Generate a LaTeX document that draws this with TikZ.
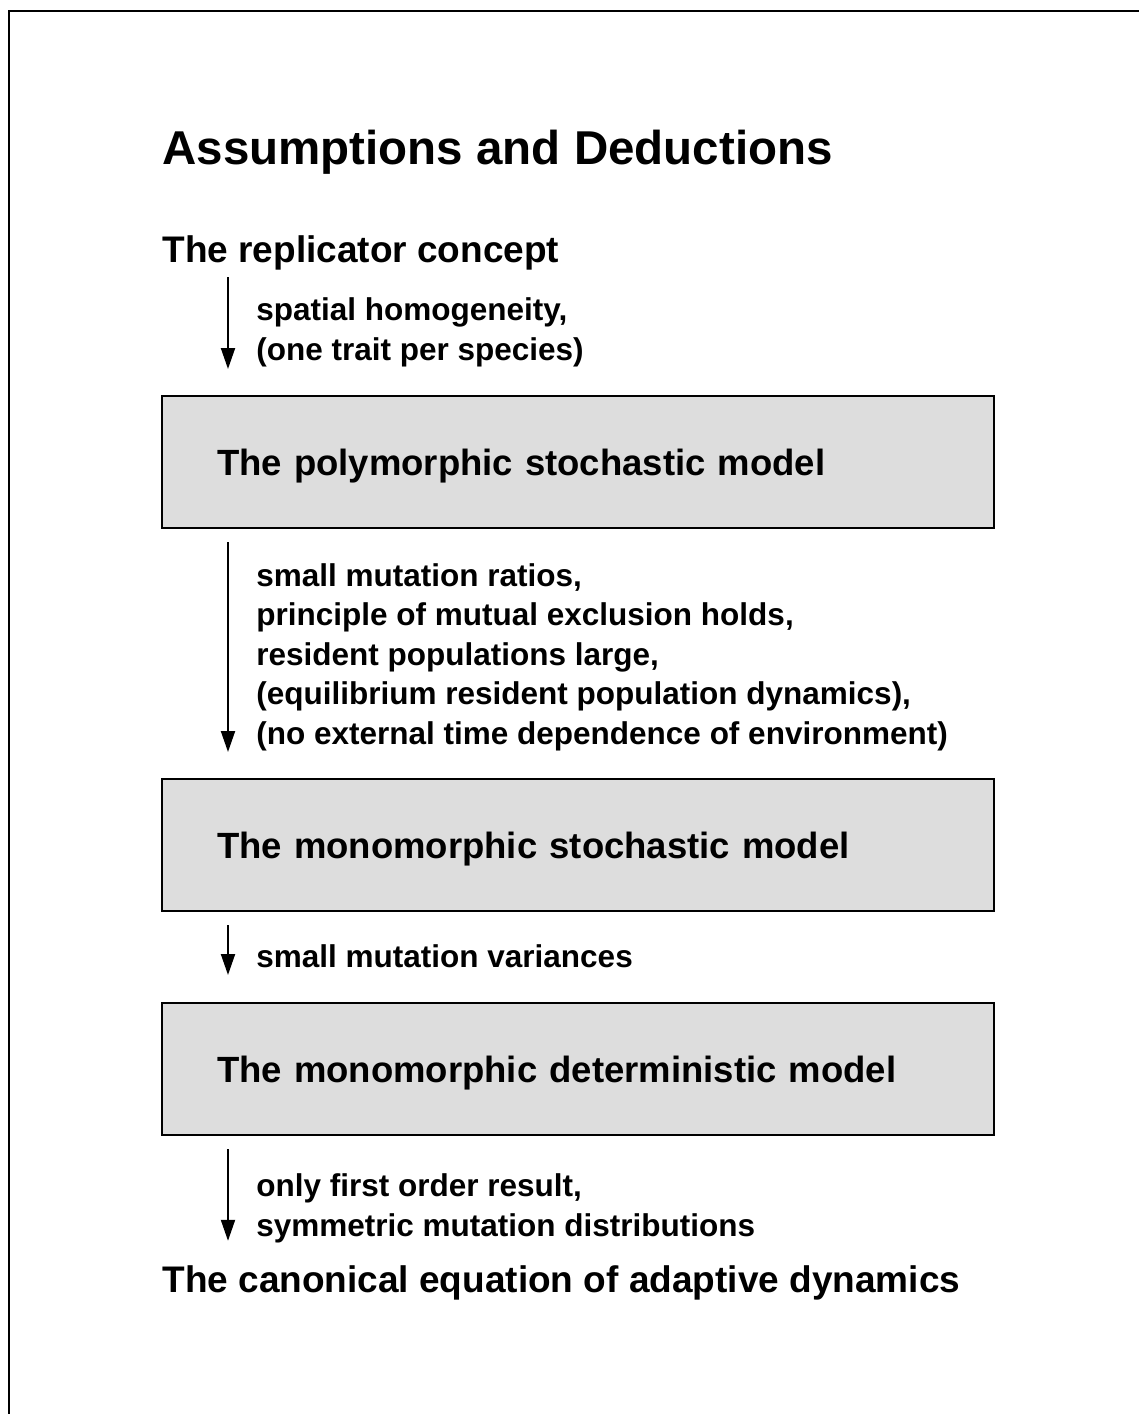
\documentclass[tikz,border=0pt]{standalone}
\usepackage{fontspec}
\setmainfont{Liberation Sans}
\usetikzlibrary{arrows.meta}
\definecolor{boxgray}{RGB}{221,221,221}

\begin{document}
\begin{tikzpicture}[x=0.5pt, y=-0.5pt, line cap=butt,
                    ttl/.style={font=\fontsize{23.75}{28}\selectfont\bfseries, inner sep=0pt, anchor=base west},
                    hd/.style={font=\fontsize{18.5}{22}\selectfont\bfseries, inner sep=0pt, anchor=base west},
                    lbl/.style={font=\fontsize{15.75}{19.75}\selectfont\bfseries, inner sep=0pt, align=left, anchor=base west},
                    modelbox/.style={draw, fill=boxgray, line width=1.1pt, outer sep=0pt, anchor=north west,
                                     minimum height=66pt, text width=361pt, inner xsep=27.5pt, inner ysep=0pt,
                                     text depth=0pt, align=left, font=\fontsize{18.25}{22}\selectfont\bfseries},
                    arr/.style={line width=1pt, -{Triangle[length=10.5pt, width=7pt]}}]

% full original canvas
\useasboundingbox (0,0) rectangle (1139,1414);

% ---- frame (only left and top edges visible) ----
\draw[line width=1pt] (9,1414) -- (9,11) -- (1139,11);

% ---- title and top concept ----
\node[ttl] (title) at (162,164) {Assumptions and Deductions};
\node[hd] (concept) at (162,262) {The replicator concept};

% ---- model boxes ----
\node[modelbox] (poly) at (162,396) {The polymorphic stochastic model};
\node[modelbox] (monostoch) at (162,779) {The monomorphic stochastic model};
\node[modelbox] (monodet) at (162,1003) {The monomorphic deterministic model};

\node[hd] (canon) at (162,1292) {The canonical equation of adaptive dynamics};

% ---- deduction arrows (all on one vertical) ----
\coordinate (ax) at (228,0);
\draw[arr, shorten <=3.5pt, shorten >=13.5pt] (concept.south -| ax) -- (poly.north -| ax);
\draw[arr, shorten <=7pt, shorten >=13.5pt] (poly.south -| ax) -- (monostoch.north -| ax);
\draw[arr, shorten <=7pt, shorten >=14pt] (monostoch.south -| ax) -- (monodet.north -| ax);
\draw[arr, shorten <=7pt, shorten >=12pt] (monodet.south -| ax) -- (canon.north -| ax);

% ---- assumption labels (base = last line) ----
\node[lbl] (asm1) at (256,360) {spatial homogeneity,\\(one trait per species)};
\node[lbl] (asm2) at (256,744) {small mutation ratios,\\principle of mutual exclusion holds,\\resident populations large,\\(equilibrium resident population dynamics),\\(no external time dependence of environment)};
\node[lbl] (asm3) at (256,967) {small mutation variances};
\node[lbl] (asm4) at (256,1236) {only first order result,\\symmetric mutation distributions};

\end{tikzpicture}
\end{document}
